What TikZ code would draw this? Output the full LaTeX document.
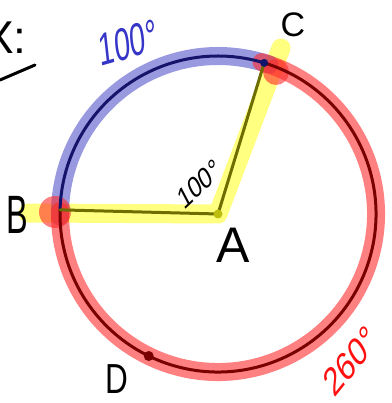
\documentclass[tikz,border=0pt]{standalone}
\usepackage{fontspec}
\setmainfont{Liberation Sans}
\definecolor{hlblue}{HTML}{5555CC}
\definecolor{hlred}{HTML}{FF2B2B}
\definecolor{hlyellow}{HTML}{FFFF2B}
\definecolor{navyarc}{HTML}{14146A}
\definecolor{redarc}{HTML}{780000}
\definecolor{oliveline}{HTML}{6E6E00}
\definecolor{lblblue}{HTML}{3535C8}
\definecolor{lblred}{HTML}{FF1010}
\definecolor{dotyellow}{HTML}{BDBD10}
\begin{document}
\begin{tikzpicture}[x=1pt,y=1pt,line cap=round,line join=round,
  bluehl/.style={draw=hlblue,line width=18pt,opacity=0.6},
  redhl/.style={draw=hlred,line width=18pt,opacity=0.6},
  yellowhl/.style={draw=hlyellow,line width=19pt,opacity=0.6},
  navy/.style={draw=navyarc,line width=3pt},
  darkred/.style={draw=redarc,line width=3pt},
  seg/.style={draw=oliveline,line width=3pt},
  lbl/.style={inner sep=0pt,text=black},
  big/.style={font=\fontsize{#1}{#1}\selectfont}]
\useasboundingbox (0,0) rectangle (391,403);
% points
\coordinate (A) at (218,189);
\path (A) ++(178.5:158) coordinate (B);
\path (A) ++(73:158) coordinate (C);
\path (A) ++(244:158) coordinate (D);
\coordinate (Yb) at (28,190);
\coordinate (Yc) at (281,355);
\path (A) ++(71:158) coordinate (Bs);
\path (A) ++(74:158) coordinate (Rs);
% highlights
\draw[yellowhl] (Yb) -- (A) -- (Yc);
\draw[bluehl] (Bs) arc[start angle=71,end angle=181,radius=158];
\draw[redhl] (Rs) arc[start angle=74,end angle=-181,radius=158];
\fill[hlred,opacity=0.6] (55,191) circle[radius=16];
\fill[hlred,opacity=0.6] (276,331) circle[radius=13];
% circle arcs
\draw[navy] (C) arc[start angle=73,end angle=178.5,radius=158];
\draw[darkred] (C) arc[start angle=73,end angle=-181.5,radius=158];
% radii
\draw[seg] (B) -- (A) -- (C);
% dots
\fill[dotyellow] (A) circle[radius=4.5];
\fill[redarc] (D) circle[radius=5];
\fill[navyarc] (C) circle[radius=4];
% labels
\node[lbl,big=50] (lA) at (233,158) {A};
\node[lbl,big=54,xscale=0.6] (lB) at (17,188) {B};
\node[lbl,big=34] (lC) at (293,378) {C};
\node[lbl,big=42,xscale=0.75] (lD) at (117,24) {D};
\node[lbl,big=46,xscale=0.62,text=lblblue,rotate=10] (ang1) at (128,360) {100°};
\node[lbl,big=30,xscale=0.75,rotate=35] (ang2) at (199,219) {100°};
\node[lbl,big=40,xscale=0.72,text=lblred,rotate=42] (ang3) at (350,42) {260°};
\node[lbl,big=46] (lX) at (5,365) {X:};
\draw[line width=3pt] (0,323) -- (35,338);
\end{tikzpicture}
\end{document}
